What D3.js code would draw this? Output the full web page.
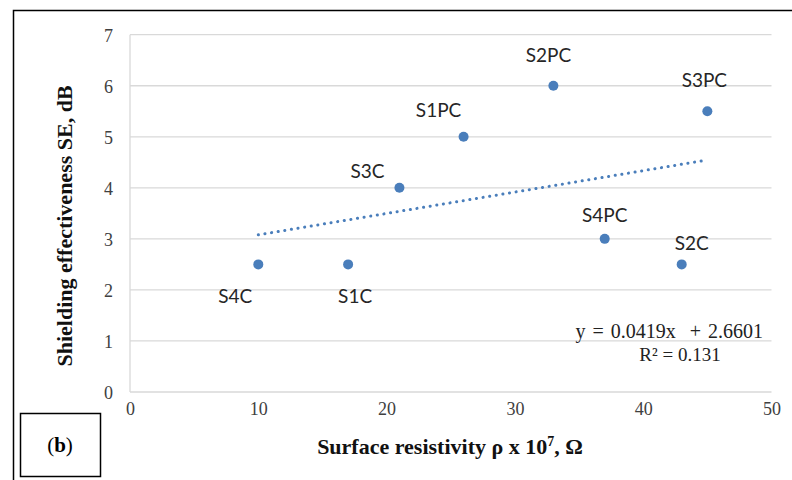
<!DOCTYPE html>
<html><head><meta charset="utf-8">
<script src="https://cdn.jsdelivr.net/npm/d3@7"></script>
<style>body{margin:0;background:#fff}svg{display:block}</style>
</head><body>
<svg id="c" width="792" height="480"></svg>
<script>
// ---- data ----
const samples = ["S4C","S1C","S3C","S1PC","S2PC","S4PC","S2C","S3PC"];
const resistivity = [10,17,21,26,33,37,43,45];
const shielding = [2.5,2.5,4,5,6,3,2.5,5.5];
const xTicks = [0,10,20,30,40,50];
const yTicks = [0,1,2,3,4,5,6,7];
const trendSlope = 0.0419, trendIntercept = 2.6601;
const trendRange = [10,45];
const eqText = "y = 0.0419x\u00a0 + 2.6601";
const r2Text = "R\u00b2 = 0.131";
// ---- layout (label offsets in px, not data) ----
const labelOffset = {
  S4C:[-23,39], S1C:[7,39], S3C:[-32,-10], S1PC:[-25,-20],
  S2PC:[-5,-24], S4PC:[0,-17], S2C:[10,-14], S3PC:[-3,-24]
};
const svg = d3.select("#c");
const blue = "#4a7ebb", grid = "#d9d9d9";
const x = d3.scaleLinear().domain([0,50]).range([130,771.5]);
const y = d3.scaleLinear().domain([0,7]).range([392,34.7]);

svg.append("rect").attr("width",792).attr("height",480).attr("fill","#fff");
// outer frame
svg.append("path").attr("d","M13.5,480V10.5H792").attr("fill","none").attr("stroke","#000").attr("stroke-width",1.5);

// gridlines
svg.append("g").selectAll("line").data(yTicks).join("line")
  .attr("x1",x(0)).attr("x2",x(50)).attr("y1",d=>y(d)).attr("y2",d=>y(d))
  .attr("stroke",grid).attr("stroke-width",1.3);
svg.append("line").attr("x1",x(0)).attr("x2",x(0)).attr("y1",y(7)).attr("y2",y(0))
  .attr("stroke",grid).attr("stroke-width",1.3);

// axes via d3
const yAxis = svg.append("g").attr("transform",`translate(${x(0)-17},0)`)
  .call(d3.axisLeft(y).tickValues(yTicks).tickSize(0).tickPadding(0).tickFormat(d3.format("d")));
const xAxis = svg.append("g").attr("transform",`translate(0,${y(0)+17})`)
  .call(d3.axisBottom(x).tickValues(xTicks).tickSize(0).tickPadding(0).tickFormat(d3.format("d")));
[yAxis,xAxis].forEach(a=>{
  a.select(".domain").remove();
  a.selectAll("text").attr("font-family","'Liberation Serif',serif").attr("font-size",18).attr("fill","#404040");
});
yAxis.selectAll("text").attr("dy","0.35em");
xAxis.selectAll("text").attr("dy","0.35em");

// trendline
svg.append("line")
  .attr("x1",x(trendRange[0])).attr("y1",y(trendSlope*trendRange[0]+trendIntercept))
  .attr("x2",x(trendRange[1])).attr("y2",y(trendSlope*trendRange[1]+trendIntercept))
  .attr("stroke",blue).attr("stroke-width",3).attr("stroke-linecap","round")
  .attr("stroke-dasharray","0.1 6.6");

// points
const pts = samples.map((s,i)=>({s,x:resistivity[i],y:shielding[i]}));
svg.append("g").selectAll("circle").data(pts).join("circle")
  .attr("cx",d=>x(d.x)).attr("cy",d=>y(d.y)).attr("r",5).attr("fill",blue);
svg.append("g").selectAll("text").data(pts).join("text")
  .attr("x",d=>x(d.x)+labelOffset[d.s][0]).attr("y",d=>y(d.y)+labelOffset[d.s][1])
  .attr("text-anchor","middle").attr("font-family","Lato, 'Open Sans', sans-serif")
  .attr("font-size",19).attr("fill","#262626").text(d=>d.s);

// equation
const serif = "'Liberation Serif', serif";
svg.append("text").attr("x",763).attr("y",338).attr("text-anchor","end")
  .attr("word-spacing",2)
  .attr("font-family",serif).attr("font-size",20).attr("fill","#222").text(eqText);
svg.append("text").attr("x",680).attr("y",361).attr("text-anchor","middle")
  .attr("font-family",serif).attr("font-size",19).attr("fill","#222").text(r2Text);

// axis titles
const xt = svg.append("text").attr("x",450).attr("y",454).attr("text-anchor","middle")
  .attr("font-family",serif).attr("font-weight","bold").attr("font-size",22).attr("fill","#111");
xt.append("tspan").text("Surface resistivity \u03c1 x 10");
xt.append("tspan").attr("font-size",14).attr("dy",-8).text("7");
xt.append("tspan").attr("dy",8).text(", \u03a9");
svg.append("text").attr("transform","translate(72,226) rotate(-90)").attr("text-anchor","middle")
  .attr("font-family",serif).attr("font-weight","bold").attr("font-size",22).attr("fill","#111")
  .text("Shielding effectiveness SE, dB");

// (b) box
svg.append("rect").attr("x",20.5).attr("y",413.5).attr("width",80).attr("height",63)
  .attr("fill","none").attr("stroke","#000").attr("stroke-width",1.5);
const bt = svg.append("text").attr("x",60).attr("y",452).attr("text-anchor","middle")
  .attr("font-family",serif).attr("font-size",21).attr("fill","#000");
bt.append("tspan").text("(");
bt.append("tspan").attr("font-weight","bold").text("b");
bt.append("tspan").text(")");
</script>
</body></html>
